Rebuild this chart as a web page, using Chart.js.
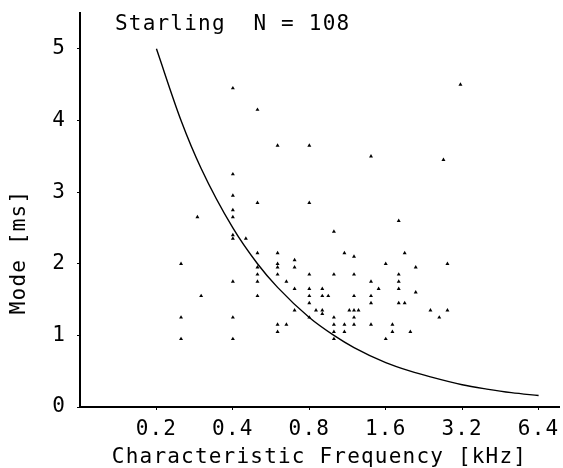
<!DOCTYPE html>
<html>
<head>
<meta charset="utf-8">
<script src="https://cdn.jsdelivr.net/npm/chart.js@4.4.1/dist/chart.umd.min.js"></script>
<style>
    html, body { margin: 0; padding: 0; background: #fff; }
    #wrap { width: 563px; height: 468px; }
</style>
</head>
<body>
<div id="wrap"><canvas id="chart"></canvas></div>
<script>
// characteristic frequency (kHz) and mode (ms) of each unit
var unitFreq = [
    0.25, 0.25, 0.25,
    0.29, 0.3,
    0.4, 0.4, 0.4, 0.4, 0.4, 0.4, 0.4, 0.4, 0.4, 0.4,
    0.45,
    0.5, 0.5, 0.5, 0.5, 0.5, 0.5, 0.5,
    0.6, 0.6, 0.6, 0.6, 0.6, 0.6, 0.6,
    0.65, 0.65,
    0.7, 0.7, 0.7, 0.7,
    0.8, 0.8, 0.8, 0.8, 0.8, 0.8, 0.8,
    0.85,
    0.9, 0.9, 0.9, 0.9,
    0.95,
    1.0, 1.0, 1.0, 1.0, 1.0, 1.0,
    1.1, 1.1, 1.1,
    1.15,
    1.2, 1.2, 1.2, 1.2, 1.2, 1.2,
    1.25,
    1.4, 1.4, 1.4, 1.4, 1.4,
    1.5,
    1.6, 1.6,
    1.7, 1.7,
    1.8, 1.8, 1.8, 1.8, 1.8,
    1.9, 1.9,
    2.0,
    2.1, 2.1,
    2.4, 2.6, 2.7,
    2.8, 2.8,
    3.15
];
var unitMode = [
    2.0, 1.25, 0.95,
    2.65, 1.55,
    4.45, 3.25, 2.95, 2.75, 2.65, 2.4, 2.35, 1.75, 1.25, 0.95,
    2.35,
    4.15, 2.85, 2.15, 1.95, 1.85, 1.75, 1.55,
    3.65, 2.15, 2.0, 1.95, 1.85, 1.15, 1.05,
    1.75, 1.15,
    2.05, 1.95, 1.65, 1.35,
    3.65, 2.85, 1.85, 1.65, 1.55, 1.45, 1.25,
    1.35,
    1.65, 1.55, 1.35, 1.3,
    1.55,
    2.45, 1.85, 1.25, 1.15, 1.05, 0.95,
    2.15, 1.15, 1.05,
    1.35,
    2.1, 1.85, 1.55, 1.35, 1.25, 1.15,
    1.35,
    3.5, 1.75, 1.55, 1.45, 1.15,
    1.65,
    2.0, 0.95,
    1.15, 1.05,
    2.6, 1.85, 1.75, 1.65, 1.45,
    2.15, 1.45,
    1.05,
    1.95, 1.6,
    1.35, 1.25, 3.45,
    2.0, 1.35,
    4.5
];

// the drawn curve (one period of the CF)
var curveFreq = [0.2, 0.25, 0.3, 0.4, 0.5, 0.6, 0.8, 1.0, 1.2, 1.6, 2.0, 2.4, 3.2, 4.0, 5.0, 6.4];
var curveMode = [5.0, 4.0, 3.33, 2.5, 2.0, 1.67, 1.25, 1.0, 0.83, 0.62, 0.5, 0.42, 0.31, 0.25, 0.2, 0.16];

var xTickValues = [0.2, 0.4, 0.8, 1.6, 3.2, 6.4];
var yTickValues = [0, 1, 2, 3, 4, 5];

var titleText = 'Starling  N = 108';
var xTitle    = 'Characteristic Frequency [kHz]';
var yTitle    = 'Mode [ms]';

var FONT    = '"DejaVu Sans Mono", "Liberation Mono", monospace';
var SPACING = '1.2px';

function toPoints( xs, ys ) {
    return xs.map( function ( x, i ) { return { x: x, y: ys[i] }; } );
}

// plotter-like lettering: widen all text a little
var spacingPlugin = {
    id: 'spacing',
    beforeUpdate: function ( chart ) { chart.ctx.letterSpacing = SPACING; },
    beforeDraw: function ( chart ) { chart.ctx.letterSpacing = SPACING; }
};

// figure title inside the plot, and the y title placed lower than centre like the original
var textPlugin = {
    id: 'plotText',
    afterDraw: function ( chart ) {
        var ctx = chart.ctx;
        ctx.save();
        ctx.letterSpacing = SPACING;
        ctx.font = '21px ' + FONT;
        ctx.fillStyle = '#000';
        ctx.textAlign = 'left';
        ctx.textBaseline = 'middle';
        ctx.fillText( titleText, chart.chartArea.left + 35, 25 );

        ctx.translate( 20, 252 );
        ctx.rotate( -Math.PI / 2 );
        ctx.textAlign = 'center';
        ctx.fillText( yTitle, 0, 0 );
        ctx.restore();
    }
};

var tickFont = { family: FONT, size: 21, lineHeight: 1 };

new Chart( document.getElementById( 'chart' ).getContext( '2d' ), {
    type: 'scatter',
    data: {
        datasets: [
            {
                data: toPoints( unitFreq, unitMode ),
                pointStyle: 'triangle',
                pointRadius: 2.3,
                backgroundColor: '#000',
                borderColor: '#000',
                borderWidth: 0
            },
            {
                data: toPoints( curveFreq, curveMode ),
                showLine: true,
                cubicInterpolationMode: 'monotone',
                pointRadius: 0,
                borderColor: '#000',
                borderWidth: 1.4,
                fill: false
            }
        ]
    },
    options: {
        responsive: true,
        maintainAspectRatio: false,
        animation: false,
        layout: { padding: { top: 13, right: 0, bottom: 0, left: 0 } },
        plugins: {
            legend: { display: false },
            tooltip: { enabled: false }
        },
        scales: {
            x: {
                type: 'logarithmic',
                min: 0.1,
                max: 7.7,
                border: { display: true, color: '#000', width: 2 },
                grid: { drawOnChartArea: false, color: '#000', tickLength: 3 },
                afterBuildTicks: function ( scale ) {
                    scale.ticks = xTickValues.map( function ( v ) { return { value: v }; } );
                },
                afterFit: function ( scale ) {
                    scale.height = 61;
                    scale.paddingLeft = 0;
                    scale.paddingRight = 0;
                },
                ticks: {
                    color: '#000',
                    font: tickFont,
                    padding: 9,
                    maxRotation: 0,
                    autoSkip: false,
                    callback: function ( v ) { return Number( v ).toFixed( 1 ); }
                },
                title: {
                    display: true,
                    text: xTitle,
                    color: '#000',
                    font: { family: FONT, size: 21, lineHeight: 1 },
                    padding: { top: 0, bottom: 0 }
                }
            },
            y: {
                min: 0,
                max: 5.5,
                border: { display: true, color: '#000', width: 2 },
                grid: { drawOnChartArea: false, color: '#000', tickLength: 3 },
                afterBuildTicks: function ( scale ) {
                    scale.ticks = yTickValues.map( function ( v ) { return { value: v }; } );
                },
                afterFit: function ( scale ) {
                    scale.width = 80;
                    scale.paddingTop = 0;
                    scale.paddingBottom = 0;
                },
                ticks: {
                    color: '#000',
                    font: tickFont,
                    padding: 11,
                    callback: function ( v ) { return String( v ); }
                },
                title: { display: false }
            }
        }
    },
    plugins: [ spacingPlugin, textPlugin ]
} );
</script>
</body>
</html>
